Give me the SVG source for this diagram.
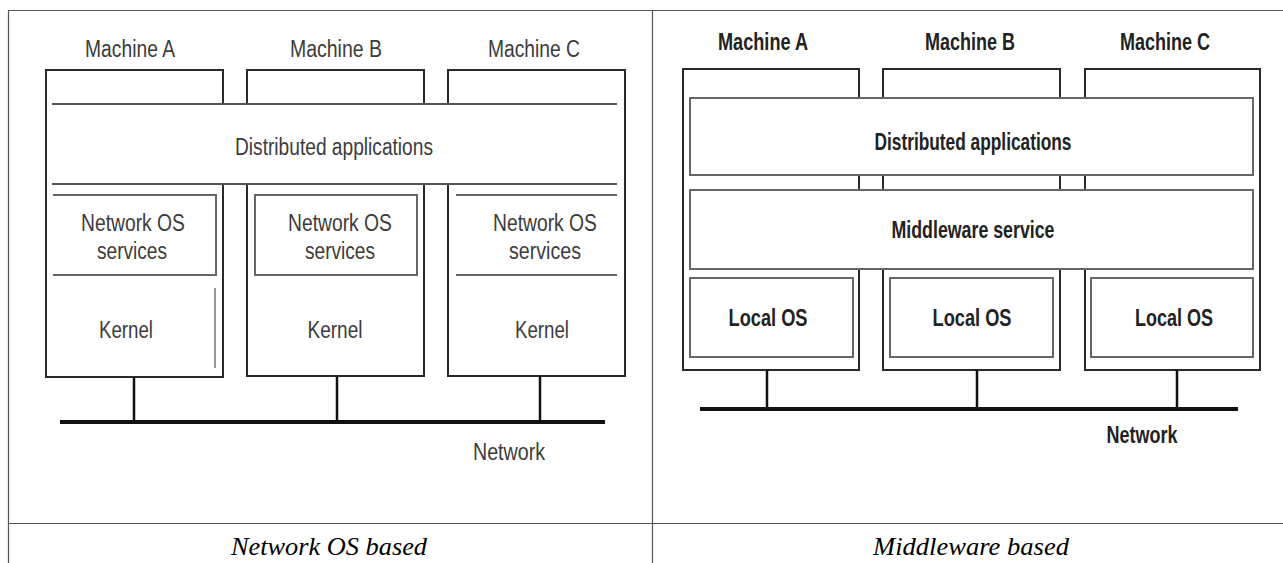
<svg xmlns="http://www.w3.org/2000/svg" width="1283" height="563" viewBox="0 0 1283 563">
<style>
.tbl{stroke:#555;stroke-width:1.2;fill:none}
.mach{stroke:#2a2a2a;stroke-width:2;fill:none}
.band{stroke:#555;stroke-width:2.2;fill:none}
.inner{stroke:#666;stroke-width:2;fill:none}
.thin{stroke:#777;stroke-width:1.5;fill:none}
.bus{stroke:#111;stroke-width:4;fill:none}
.drop{stroke:#111;stroke-width:2.5;fill:none}
.lt{font-family:"Liberation Sans",Arial,sans-serif;font-size:23px;fill:#3c3c3c;text-anchor:middle}
.rt{font-family:"Liberation Sans",Arial,sans-serif;font-size:23px;font-weight:bold;fill:#222;text-anchor:middle}
.cap{font-family:"Liberation Serif","Times New Roman",serif;font-style:italic;font-size:25px;fill:#000;text-anchor:middle}
</style>
<rect width="1283" height="563" fill="#fff"/>
<g id="table">
<path class="tbl" d="M8,10.5H1283M8.5,10V563M652.5,10V563M8,523.5H1283"/>
</g>
<g id="left-diagram">
<g id="l-machine-a">
<path class="mach" d="M223,104V70H46V377H223V184"/>
<text class="lt" x="130" y="57" textLength="90" lengthAdjust="spacingAndGlyphs">Machine A</text>
</g>
<g id="l-machine-b">
<path class="mach" d="M247,104V70H424V104M247,184V376H424V184"/>
<text class="lt" x="336" y="57" textLength="92" lengthAdjust="spacingAndGlyphs">Machine B</text>
</g>
<g id="l-machine-c">
<path class="mach" d="M448,104V70H625V376H448V184"/>
<text class="lt" x="534" y="57" textLength="92" lengthAdjust="spacingAndGlyphs">Machine C</text>
</g>
<g id="l-distributed">
<path class="band" d="M52,104H617M52,184H617"/>
<text class="lt" x="334" y="155" textLength="198" lengthAdjust="spacingAndGlyphs">Distributed applications</text>
</g>
<g id="l-nos-a">
<path class="inner" d="M53,195H216V275H53"/>
<text class="lt" x="133" y="231" textLength="104" lengthAdjust="spacingAndGlyphs">Network OS</text>
<text class="lt" x="132" y="259" textLength="70" lengthAdjust="spacingAndGlyphs">services</text>
</g>
<g id="l-kernel-a">
<path class="thin" d="M215,288V368"/>
<text class="lt" x="126" y="338" textLength="54" lengthAdjust="spacingAndGlyphs">Kernel</text>
</g>
<g id="l-nos-b">
<rect class="inner" x="255" y="195" width="162" height="80"/>
<text class="lt" x="340" y="231" textLength="104" lengthAdjust="spacingAndGlyphs">Network OS</text>
<text class="lt" x="340" y="259" textLength="70" lengthAdjust="spacingAndGlyphs">services</text>
</g>
<g id="l-kernel-b">
<text class="lt" x="335" y="338" textLength="55" lengthAdjust="spacingAndGlyphs">Kernel</text>
</g>
<g id="l-nos-c">
<path class="inner" d="M456,195H617M456,275H617"/>
<text class="lt" x="545" y="231" textLength="104" lengthAdjust="spacingAndGlyphs">Network OS</text>
<text class="lt" x="545" y="259" textLength="72" lengthAdjust="spacingAndGlyphs">services</text>
</g>
<g id="l-kernel-c">
<text class="lt" x="542" y="338" textLength="54" lengthAdjust="spacingAndGlyphs">Kernel</text>
</g>
<g id="l-network">
<text class="lt" x="509" y="460" textLength="72" lengthAdjust="spacingAndGlyphs">Network</text>
</g>
</g>
<g id="right-diagram">
<g id="r-machine-a">
<path class="mach" d="M859,98V69H683V370H859V269M859,175V190"/>
<text class="rt" x="763" y="50" textLength="90" lengthAdjust="spacingAndGlyphs">Machine A</text>
</g>
<g id="r-machine-b">
<path class="mach" d="M883,98V69H1060V98M883,175V190M1060,175V190M883,269V370H1060V269"/>
<text class="rt" x="970" y="50" textLength="90" lengthAdjust="spacingAndGlyphs">Machine B</text>
</g>
<g id="r-machine-c">
<path class="mach" d="M1085,98V69H1260V370H1085V269M1085,175V190"/>
<text class="rt" x="1165" y="50" textLength="90" lengthAdjust="spacingAndGlyphs">Machine C</text>
</g>
<g id="r-distributed">
<rect class="inner" x="690" y="98" width="563" height="77"/>
<text class="rt" x="973" y="150" textLength="197" lengthAdjust="spacingAndGlyphs">Distributed applications</text>
</g>
<g id="r-middleware">
<rect class="inner" x="690" y="190" width="563" height="79"/>
<text class="rt" x="973" y="238" textLength="163" lengthAdjust="spacingAndGlyphs">Middleware service</text>
</g>
<g id="r-localos-a">
<rect class="inner" x="690" y="278" width="163" height="79"/>
<text class="rt" x="768" y="326" textLength="79" lengthAdjust="spacingAndGlyphs">Local OS</text>
</g>
<g id="r-localos-b">
<rect class="inner" x="890" y="278" width="163" height="79"/>
<text class="rt" x="972" y="326" textLength="79" lengthAdjust="spacingAndGlyphs">Local OS</text>
</g>
<g id="r-localos-c">
<rect class="inner" x="1091" y="278" width="162" height="79"/>
<text class="rt" x="1174" y="326" textLength="78" lengthAdjust="spacingAndGlyphs">Local OS</text>
</g>
<g id="r-network">
<text class="rt" x="1142" y="443" textLength="71" lengthAdjust="spacingAndGlyphs">Network</text>
</g>
</g>
<g id="connectors">
<path class="bus" d="M60,422H605"/>
<path class="drop" d="M134,377V422M337,376V422M540,376V422"/>
<path class="bus" d="M700,409H1238"/>
<path class="drop" d="M767,370V409M977,370V409M1177,370V409"/>
</g>
<g id="captions">
<text class="cap" x="329" y="555" textLength="196" lengthAdjust="spacingAndGlyphs">Network OS based</text>
<text class="cap" x="971" y="555" textLength="196" lengthAdjust="spacingAndGlyphs">Middleware based</text>
</g>
</svg>
